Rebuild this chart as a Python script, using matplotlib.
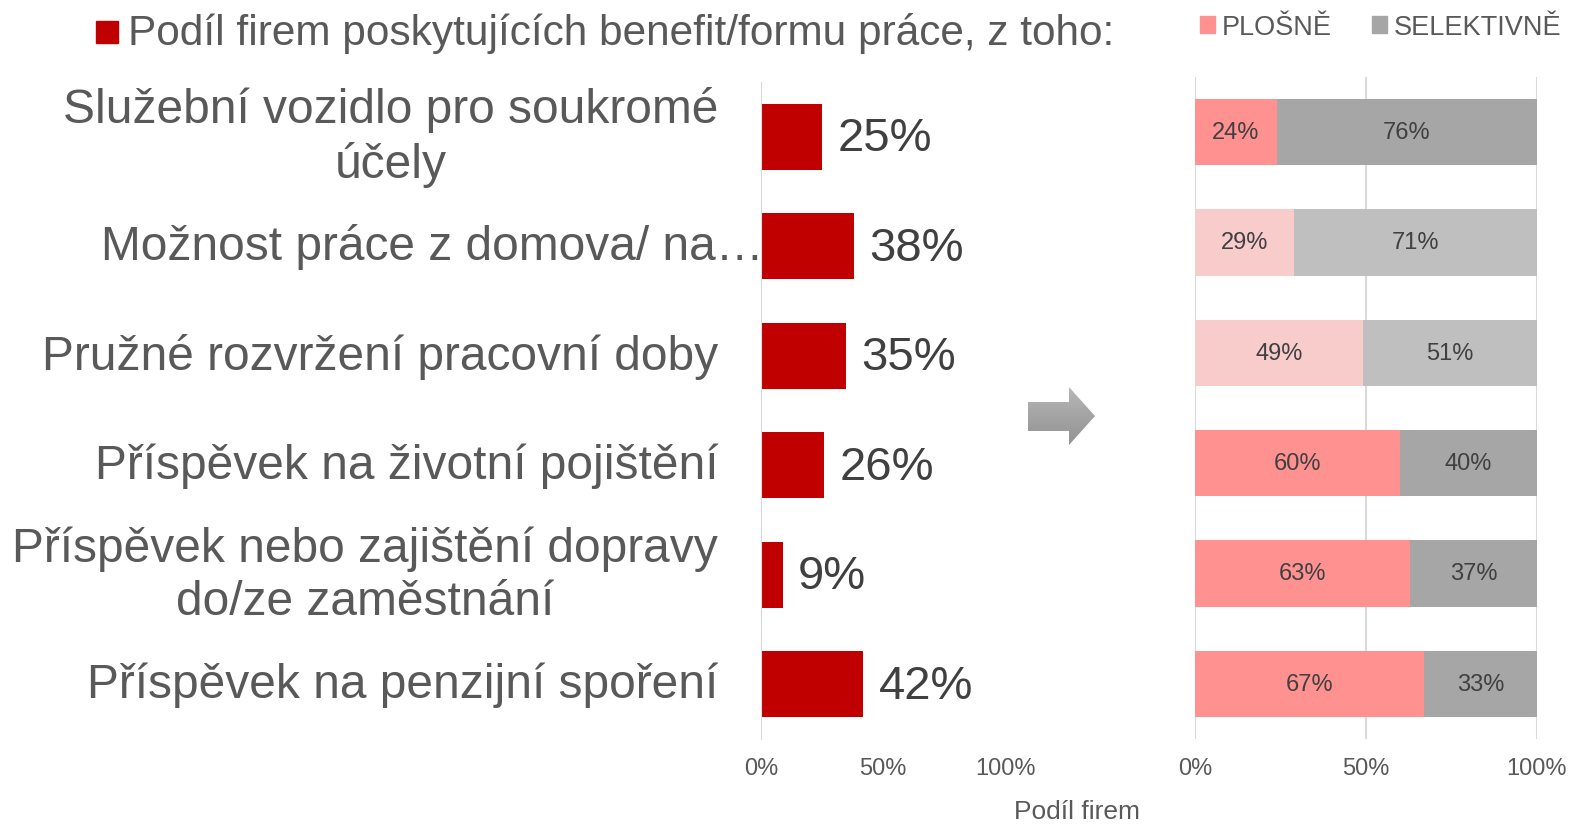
import matplotlib.pyplot as plt
import matplotlib.patches as mpatches
import matplotlib.transforms as mtransforms
from matplotlib.colors import LinearSegmentedColormap
import numpy as np

plt.rcParams['font.family'] = ['Liberation Sans', 'DejaVu Sans']

# data
kategorie = ["Služební vozidlo pro soukromé\núčely",
             "Možnost práce z domova/ na…",
             "Pružné rozvržení pracovní doby",
             "Příspěvek na životní pojištění",
             "Příspěvek nebo zajištění dopravy\ndo/ze zaměstnání",
             "Příspěvek na penzijní spoření"]
podil = [25, 38, 35, 26, 9, 42]
plosne = [24, 29, 49, 60, 63, 67]
selektivne = [76, 71, 51, 40, 37, 33]
barvy_plosne = ['#FF9191', '#F9CCCC', '#F9CCCC', '#FF9191', '#FF9191', '#FF9191']
barvy_selekt = ['#A6A6A6', '#BFBFBF', '#BFBFBF', '#A6A6A6', '#A6A6A6', '#A6A6A6']
ticky = [0, 50, 100]

fig = plt.figure(figsize=(15.75, 8.29), dpi=100)
W, H = 1575, 829
ax1 = fig.add_axes([761 / W, (829 - 740) / H, (1005 - 761) / W, (740 - 83) / H])
ax2 = fig.add_axes([1195 / W, (829 - 740) / H, (1537 - 1195) / W, (740 - 78) / H])

y = np.arange(len(kategorie))

# levy graf
ax1.barh(y, podil, height=0.6, color='#C00000')
for i, v in enumerate(podil):
    ax1.annotate(f"{v}%", (v, i), xytext=(11, -1), textcoords='offset points',
                 va='center', ha='left', fontsize=34, color='#404040')
ax1.set_xlim(0, 100)
ax1.set_ylim(len(kategorie) - 0.5, -0.5)
ax1.set_yticks([])
trans = mtransforms.blended_transform_factory(ax1.transAxes, ax1.transData)
for i, k in enumerate(kategorie):
    # druhy popisek je v originale orezany a dosahuje az k ose
    x = 0.012 if k.endswith("…") else -0.176
    ax1.text(x, i, k, transform=trans, ha='right', va='center',
             multialignment='center', fontsize=34.5, color='#595959',
             linespacing=1.25)
ax1.set_xticks(ticky)
ax1.set_xticklabels([f"{t}%" for t in ticky], fontsize=17, color='#595959')
ax1.tick_params(axis='x', length=0, pad=13)
for s in ['top', 'right', 'bottom']:
    ax1.spines[s].set_visible(False)
ax1.spines['left'].set_color('#D9D9D9')

# pravy graf
ax2.barh(y, plosne, height=0.6, color=barvy_plosne, zorder=2)
ax2.barh(y, selektivne, left=plosne, height=0.6, color=barvy_selekt, zorder=2)
for i in range(len(kategorie)):
    ax2.text(plosne[i] / 2, i, f"{plosne[i]}%", ha='center', va='center',
             fontsize=17, color='#404040', zorder=3)
    ax2.text(plosne[i] + selektivne[i] / 2, i, f"{selektivne[i]}%", ha='center',
             va='center', fontsize=17, color='#404040', zorder=3)
ax2.set_xlim(0, 100)
ax2.set_ylim(len(kategorie) - 0.5, -0.5)
ax2.set_yticks([])
ax2.set_xticks(ticky)
ax2.set_xticklabels([f"{t}%" for t in ticky], fontsize=17, color='#595959')
ax2.tick_params(axis='x', length=0, pad=13)
ax2.grid(axis='x', color='#D9D9D9', linewidth=1.5, zorder=0)
for s in ax2.spines.values():
    s.set_visible(False)

# legendy
fig.patches.append(mpatches.Rectangle((96 / W, 1 - 44 / H), 22 / W, 22 / H,
                                      transform=fig.transFigure, color='#C00000'))
fig.text(128 / W, 1 - 33 / H, 'Podíl firem poskytujících benefit/formu práce, z toho:',
         ha='left', va='center', fontsize=30.5, color='#595959')
fig.legend(handles=[mpatches.Patch(color='#FF9191', label='PLOŠNĚ'),
                    mpatches.Patch(color='#A6A6A6', label='SELEKTIVNĚ')],
           loc='center right', bbox_to_anchor=(1.007, 0.966), ncol=2, frameon=False,
           fontsize=19.5, handlelength=0.55, handleheight=0.55, handletextpad=0.25,
           columnspacing=1.5, labelcolor='#595959')

fig.text(1077 / W, 1 - 812 / H, "Podíl firem", ha='center', va='center',
         fontsize=19, color='#595959')

# sipka s prechodem
sipka = mpatches.Polygon([(1028, 397), (1069, 397), (1069, 383), (1095, 412),
                          (1069, 441), (1069, 426), (1028, 426)], closed=True,
                         facecolor='none', edgecolor='none')
ax3 = fig.add_axes([1020 / W, 375 / H, 85 / W, 75 / H])
ax3.set_xlim(1020, 1105)
ax3.set_ylim(375, 450)
ax3.axis('off')
ax3.add_patch(sipka)
sede = LinearSegmentedColormap.from_list('sede', ['#BEBEBE', '#A4A4A4', '#8E8E8E'])
prechod = np.linspace(0, 1, 100).reshape(-1, 1)
img = ax3.imshow(prechod, cmap=sede, aspect='auto',
                 extent=[1020, 1105, 375, 450], origin='upper')
img.set_clip_path(sipka)

plt.savefig("out.png", dpi=100)
